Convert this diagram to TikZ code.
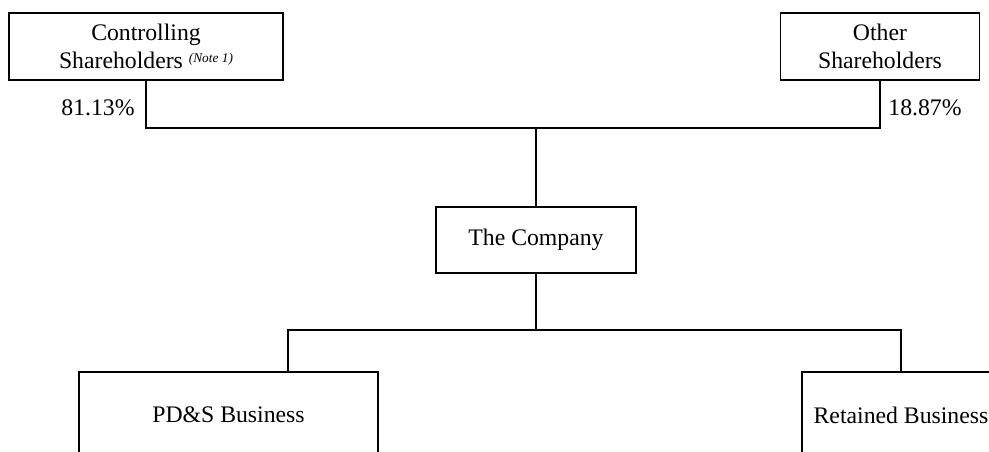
\documentclass[tikz,border=0pt]{standalone}
\usepackage{fontspec}
\setmainfont{Liberation Serif}
\usepackage{tikz}
\usetikzlibrary{positioning}
\tikzset{
  box/.style={draw,line width=1pt,align=center,inner sep=2pt,font=\fontsize{17.8}{21}\selectfont},
  link/.style={line width=1.4pt},
  pct/.style={font=\fontsize{17.8}{21}\selectfont,inner sep=0pt}
}
\newcommand{\notemark}[1]{\raisebox{0.6ex}{\fontsize{10}{10}\selectfont\itshape #1}}

\begin{document}
\begin{tikzpicture}[x=0.75pt,y=-0.75pt]
\path[use as bounding box,clip] (0,0) rectangle (989,452);

\node[box, minimum width=205.5pt, minimum height=50.25pt] (ctrl) at (146,46.5) {Controlling\\Shareholders \notemark{(Note 1)}};
\node[box, minimum width=149.25pt, minimum height=50.25pt] (other) at (880,46.5) {Other\\Shareholders};
\node[box, minimum width=150pt, minimum height=49.5pt] (company) at (536,240) {The Company};
\node[box, minimum width=224.25pt, minimum height=64.5pt] (pds) at (228.5,415) {PD\&S Business};
\node[box, minimum width=148.5pt, minimum height=64.5pt] (retained) at (901,415) {Retained Business};

\node[pct] (pctctrl) at (98,108) {81.13\%};
\node[pct] (pctother) at (925,108) {18.87\%};

\coordinate (topjoin) at (536,128);
\coordinate (botL) at (288,330);
\coordinate (botR) at (901,330);

\draw[link] (ctrl.south) |- (topjoin) -| (other.south);
\draw[link] (topjoin) -- (company.north);

\draw[link] (company.south) -- (company.south |- botL);
\draw[link] (botL |- pds.north) -- (botL) -- (botR) -- (retained.north);
\end{tikzpicture}
\end{document}
